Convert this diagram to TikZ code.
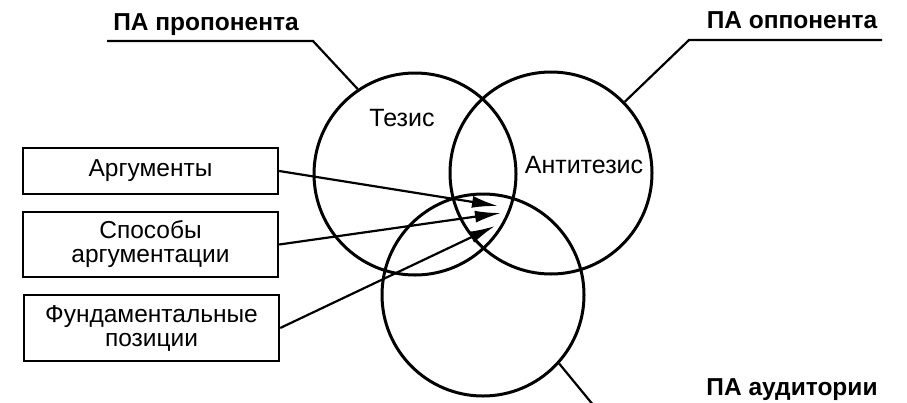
\documentclass[tikz,border=0pt]{standalone}
\usepackage{fontspec}
\setmainfont{Liberation Sans}
\usetikzlibrary{arrows.meta}
\begin{document}
\begin{tikzpicture}[x=1pt,y=-1pt,
  ring/.style={circle,draw,line width=3pt,minimum size=202pt,inner sep=0pt},
  box/.style={draw,line width=2.4pt,minimum width=255pt,inner sep=0pt,align=center,font=\fontsize{24.5}{24}\selectfont},
  circtext/.style={font=\fontsize{25}{26}\selectfont,inner sep=0pt},
  patext/.style={font=\fontsize{24.5}{26}\selectfont\bfseries,anchor=base,inner sep=0pt},
  lead/.style={line width=2.2pt},
  conn/.style={line width=2.2pt,-{Latex[length=26pt,width=12pt]}}]
\useasboundingbox (0,0) rectangle (907,402);
% circles
\node[ring] (c1) at (415,174) {};
\node[ring] (c2) at (551,173) {};
\node[ring] (c3) at (483,295) {};
% circle texts
\node[circtext] (tez) at (402,118) {Тезис};
\node[circtext] (anti) at (584,165) {Антитезис};
% header labels
\node[patext] (pa1) at (206,30) {ПА пропонента};
\node[patext] (pa2) at (792,28) {ПА оппонента};
\node[patext] (pa3) at (792,395) {ПА аудитории};
\coordinate (u1l) at (107,41);
\coordinate (u1r) at (313,41);
\coordinate (u2l) at (689,40);
\coordinate (u2r) at (882,40);
\coordinate (u3) at (594,406);
\draw[lead] (u1l) -- (u1r) -- (c1.124);
\draw[lead] (u2r) -- (u2l) -- (c2.44);
\draw[lead] (c3.-42) -- (u3);
% boxes
\node[box,minimum height=46pt] (b1) at (150.5,171) {Аргументы};
\node[box,minimum height=65pt] (b2) at (150.5,244.5) {Способы\\аргументации};
\node[box,minimum height=66pt] (b3) at (151.5,328) {Фундаментальные\\позиции};
% arrow tips
\coordinate (t1) at (498,206);
\coordinate (t2) at (501,213);
\coordinate (t3) at (495,226);
\draw[conn] (b1.east) -- (t1);
\draw[conn] (b2.east) -- (t2);
\draw[conn] (b3.east) -- (t3);
\end{tikzpicture}
\end{document}
